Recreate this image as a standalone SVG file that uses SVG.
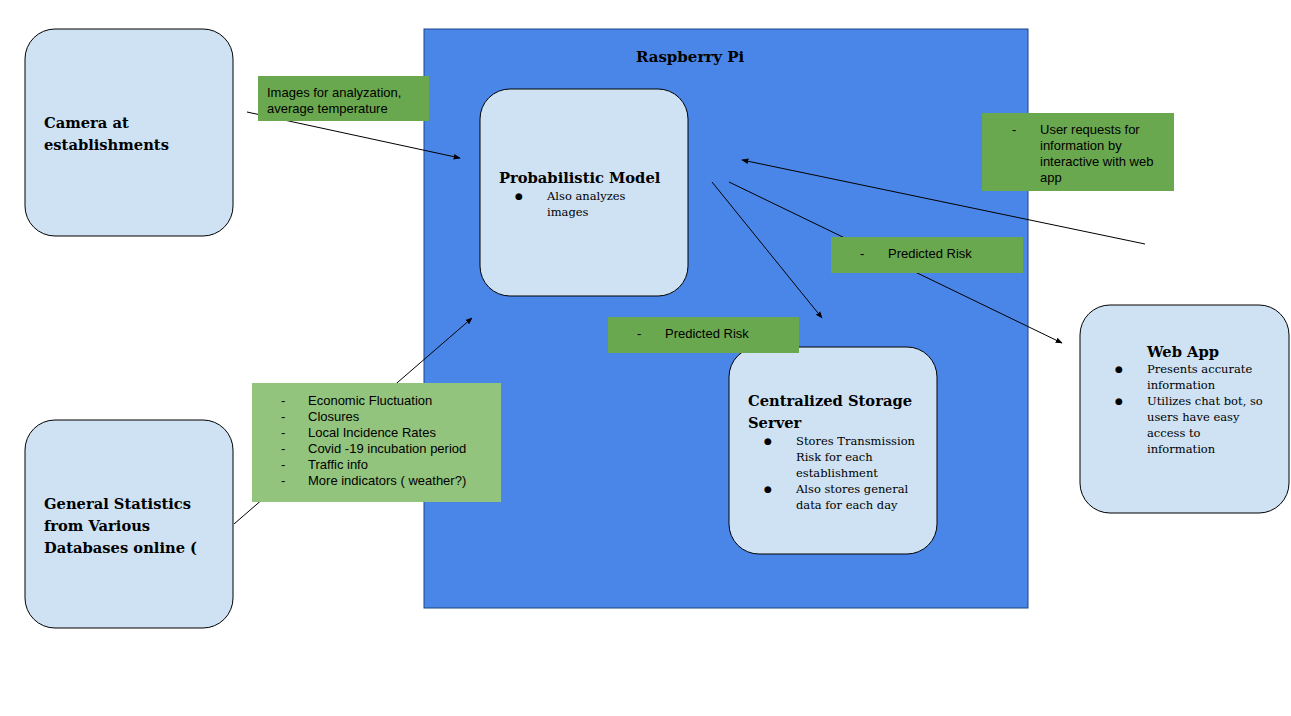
<svg xmlns="http://www.w3.org/2000/svg" width="1291" height="716" viewBox="0 0 1291 716">
<defs>
<style>
.node{fill:#cfe2f3;stroke:#000;stroke-width:1}
.t{font-family:"DejaVu Serif",serif;font-size:14.7px;font-weight:bold;fill:#000}
.s{font-family:"DejaVu Serif",serif;font-size:11.5px;fill:#000}
.b{font-family:"DejaVu Sans",sans-serif;font-size:9px;fill:#000}
.g{font-family:"Liberation Sans",Arial,sans-serif;font-size:13px;fill:#000}
.lbl{fill:#6aa84f}
.conn line{stroke:#000;stroke-width:1;marker-end:url(#a)}
</style>
<marker id="a" viewBox="0 0 10 10" refX="9" refY="5" markerWidth="7" markerHeight="7" orient="auto"><path d="M0,1 L10,5 L0,9 z" fill="#000"/></marker>
</defs>
<rect width="1291" height="716" fill="#fff"/>
<g id="pi"><rect x="424" y="29" width="604" height="579" fill="#4a86e8" stroke="#1c4587"/>
<text x="690" y="62" text-anchor="middle" class="t" style="font-size:15px">Raspberry Pi</text></g>
<g id="camera"><rect class="node" x="25" y="29" width="208" height="207" rx="30"/>
<text class="t" x="44" y="128">Camera at</text><text class="t" x="44" y="150">establishments</text></g>
<g id="stats"><rect class="node" x="25" y="420" width="208" height="208" rx="30"/>
<text class="t" x="44" y="509">General Statistics</text><text class="t" x="44" y="531">from Various</text><text class="t" x="44" y="553">Databases online (</text></g>
<g id="model"><rect class="node" x="480" y="89" width="208" height="207" rx="30"/>
<text class="t" x="499" y="183">Probabilistic Model</text>
<text class="b" x="515" y="199">●</text><text class="s" x="547" y="200">Also analyzes</text><text class="s" x="547" y="216">images</text></g>
<g id="storage"><rect class="node" x="729" y="347" width="208" height="207" rx="30"/>
<text class="t" x="748" y="406">Centralized Storage</text><text class="t" x="748" y="428">Server</text>
<text class="b" x="764" y="444">●</text><text class="s" x="796" y="445">Stores Transmission</text><text class="s" x="796" y="461">Risk for each</text><text class="s" x="796" y="477">establishment</text>
<text class="b" x="764" y="492">●</text><text class="s" x="796" y="493">Also stores general</text><text class="s" x="796" y="509">data for each day</text></g>
<g id="webapp"><rect class="node" x="1080" y="305" width="209" height="208" rx="30"/>
<text class="t" x="1147" y="357">Web App</text>
<text class="b" x="1115" y="372">●</text><text class="s" x="1147" y="373">Presents accurate</text><text class="s" x="1147" y="389">information</text>
<text class="b" x="1115" y="404">●</text><text class="s" x="1147" y="405">Utilizes chat bot, so</text><text class="s" x="1147" y="421">users have easy</text><text class="s" x="1147" y="437">access to</text><text class="s" x="1147" y="453">information</text></g>
<g class="conn">
<line x1="247" y1="112" x2="460" y2="158"/>
<line x1="234" y1="524" x2="472" y2="318"/>
<line x1="712" y1="182" x2="822" y2="318"/>
<line x1="729" y1="182" x2="1062" y2="343"/>
<line x1="1145" y1="244" x2="742" y2="160"/>
</g>
<g id="labels">
<rect class="lbl" x="258" y="76" width="171" height="45"/>
<text class="g" x="267" y="97">Images for analyzation,</text><text class="g" x="267" y="113">average temperature</text>
<rect class="lbl" x="982" y="113" width="192" height="78"/>
<text class="g" x="1012" y="134">-</text><text class="g" x="1040" y="134">User requests for</text><text class="g" x="1040" y="150">information by</text><text class="g" x="1040" y="166">interactive with web</text><text class="g" x="1040" y="182">app</text>
<rect class="lbl" x="831" y="237" width="192" height="36"/>
<text class="g" x="860" y="258">-</text><text class="g" x="888" y="258">Predicted Risk</text>
<rect class="lbl" x="608" y="317" width="191" height="36"/>
<text class="g" x="637" y="338">-</text><text class="g" x="665" y="338">Predicted Risk</text>
<rect x="252" y="383" width="249" height="119" fill="#93c47d"/>
<g class="g"><text x="281" y="405">-</text><text x="308" y="405">Economic Fluctuation</text>
<text x="281" y="421">-</text><text x="308" y="421">Closures</text>
<text x="281" y="437">-</text><text x="308" y="437">Local Incidence Rates</text>
<text x="281" y="453">-</text><text x="308" y="453">Covid -19 incubation period</text>
<text x="281" y="469">-</text><text x="308" y="469">Traffic info</text>
<text x="281" y="485">-</text><text x="308" y="485">More indicators ( weather?)</text></g>
</g>
</svg>
